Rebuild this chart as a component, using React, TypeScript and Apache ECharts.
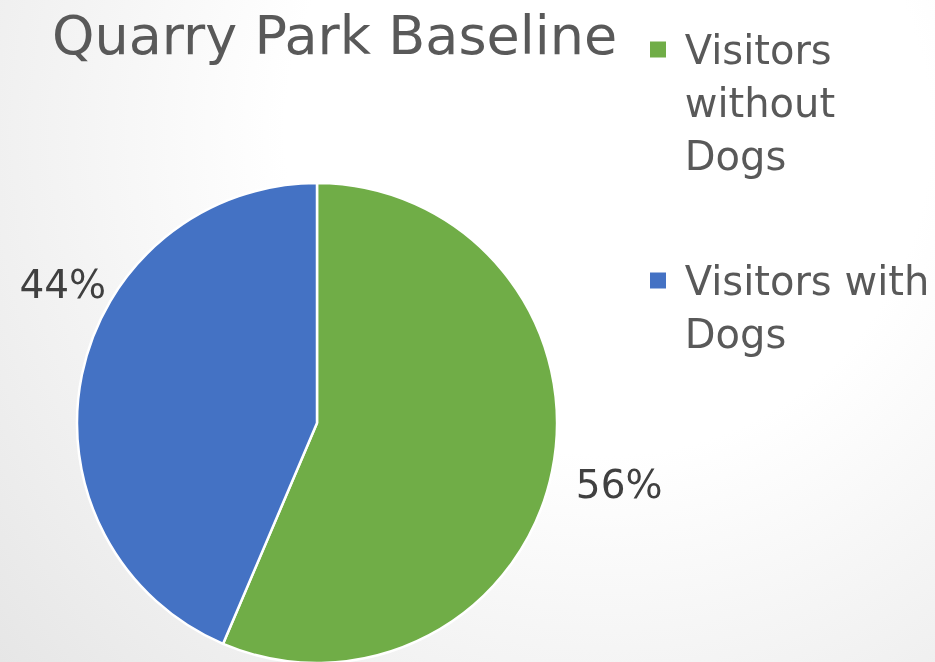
import React, { useEffect, useRef } from "react";
import * as echarts from "echarts";

const titleText = "Quarry Park Baseline";
const categories = ["Visitors without Dogs", "Visitors with Dogs"];
const legendLines = [["Visitors", "without", "Dogs"], ["Visitors with", "Dogs"]];
const shares = [56.4, 43.6];
const colors = ["#70AD47", "#4472C4"];

const FONT = "'DejaVu Sans', 'Liberation Sans', sans-serif";
const LH = 53;

export default function App() {
  const ref = useRef<HTMLDivElement>(null);
  useEffect(() => {
    if (!ref.current) return;
    const chart = echarts.init(ref.current, null, { renderer: "svg" });
    const legendMap: Record<string, string> = {};
    categories.forEach((c, i) => {
      const lines = legendLines[i];
      // leading blank lines keep the marker level with the first line of the label
      legendMap[c] = "\n".repeat(lines.length - 1) + lines.map((l) => " " + l).join("\n");
    });
    chart.setOption({
      animation: false,
      backgroundColor: "transparent",
      title: {
        text: titleText,
        left: 47,
        top: 3,
        textStyle: { fontFamily: FONT, fontSize: 54, fontWeight: "normal", color: "#595959" },
      },
      legend: {
        orient: "vertical",
        left: 643,
        top: -88,
        itemWidth: 18,
        itemHeight: 18,
        itemGap: 19,
        icon: "rect",
        selectedMode: false,
        formatter: (name: string) => legendMap[name],
        textStyle: { fontFamily: FONT, fontSize: 40, color: "#595959", lineHeight: LH },
        data: categories,
      },
      series: [
        {
          type: "pie",
          center: [317, 423],
          radius: 240,
          startAngle: 90,
          clockwise: true,
          itemStyle: { borderColor: "#ffffff", borderWidth: 2.5 },
          label: {
            show: true,
            position: "outside",
            formatter: (p: any) => Math.round(p.percent) + "%",
            fontFamily: FONT,
            fontSize: 39,
            color: "#404040",
            overflow: "none",
          },
          labelLine: { show: false, length: 15, length2: 0 },
          labelLayout: (p: any) => (p.dataIndex === 0 ? { dx: 4, dy: 11 } : { dx: 44, dy: -88 }),
          emphasis: { disabled: true },
          data: categories.map((c, i) => ({ name: c, value: shares[i], itemStyle: { color: colors[i] } })),
        },
      ],
    });
    return () => chart.dispose();
  }, []);
  return (
    <div
      ref={ref}
      style={{
        position: "fixed",
        left: 0,
        top: 0,
        width: 935,
        height: 662,
        background: "radial-gradient(circle at 65% 20%, #ffffff 40%, #e6e6e6 100%)",
      }}
    />
  );
}
